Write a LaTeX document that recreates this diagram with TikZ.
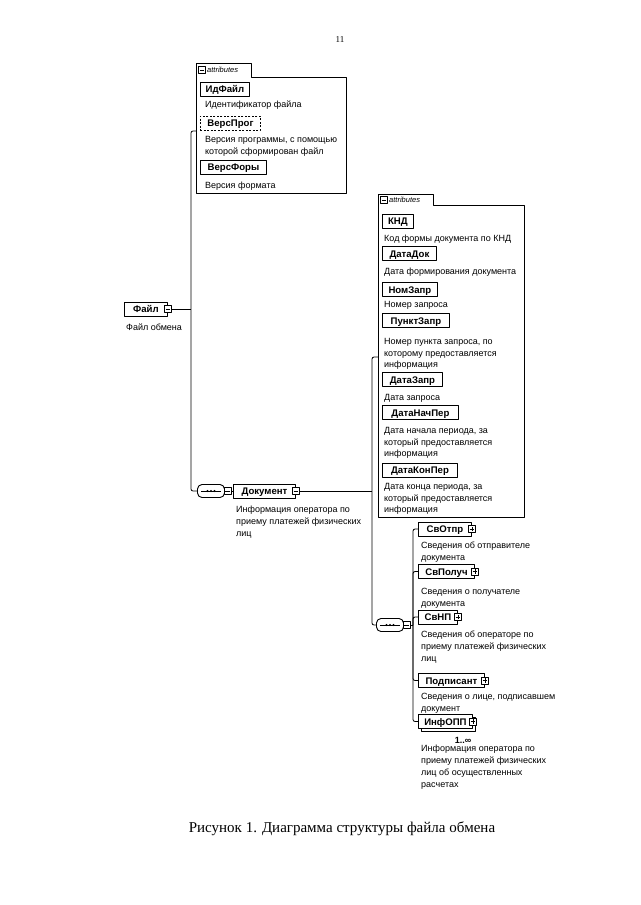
\documentclass[tikz,border=0pt]{standalone}
\usepackage{fontspec}
\setmainfont{Liberation Serif}
\newfontfamily\arialf{Liberation Sans}
\usetikzlibrary{shadows}

\begin{document}
\begin{tikzpicture}[x=1pt,y=-1pt, line join=round,
    every node/.style={inner sep=0pt},
    el/.style={draw, fill=white, line width=.9pt, anchor=west, minimum height=14pt, inner xsep=3.5pt,
        text height=7.8pt, text depth=.8pt, font=\arialf\bfseries\fontsize{9.6}{11}\selectfont},
    optel/.style={el, dash pattern=on 2pt off 1.5pt},
    dsc/.style={anchor=north west, align=left, font=\arialf\fontsize{9}{11.8}\selectfont},
    minus/.style={draw, fill=white, line width=.7pt, minimum size=7pt,
        path picture={\draw ([xshift=1.3pt]path picture bounding box.west) -- ([xshift=-1.3pt]path picture bounding box.east);}},
    plus/.style={draw, fill=white, line width=.7pt, minimum size=7pt,
        path picture={\draw ([xshift=1.3pt]path picture bounding box.west) -- ([xshift=-1.3pt]path picture bounding box.east);
                      \draw ([yshift=1.3pt]path picture bounding box.south) -- ([yshift=-1.3pt]path picture bounding box.north);}},
    seqsym/.style={draw, fill=white, line width=.9pt, rounded corners=4.5pt, minimum width=27pt, minimum height=13pt},
    conn/.style={line width=.8pt, rounded corners=2pt},
    tabtxt/.style={anchor=west, font=\arialf\itshape\fontsize{7.5}{8}\selectfont}]
    \useasboundingbox (0,0) rectangle (640,905);
    \node (pg) at (340,40) {\fontsize{9}{10}\selectfont 11};

    % attributes of Файл
    \draw[line width=.9pt] (196,193) -- (196,63) -- (251,63) -- (251,77) -- (346,77) -- (346,193) -- cycle;
    \node[minus] (fatab) at (202,70) {};
    \node[tabtxt] (fatabt) at (207,70) {attributes};
    \node[el, minimum width=49pt] (idfajl) at (200,89) {ИдФайл};
    \node[dsc] (idfajld) at (205,101) {Идентификатор файла};
    \node[optel, minimum width=60pt] (versprog) at (200,123) {ВерсПрог};
    \node[dsc] (versprogd) at (205,136) {Версия программы, с помощью\\которой сформирован файл};
    \node[el, minimum width=66pt] (versfor) at (200,167) {ВерсФоры};
    \node[dsc] (versford) at (205,182) {Версия формата};

    % root
    \node[el, minimum width=43pt] (fajl) at (124,309) {Файл};
    \node[minus] (fajlx) at (fajl.east) {};
    \node[dsc] (fajld) at (126,324) {Файл обмена};
    \coordinate (fjF) at (191,309);
    \coordinate (attrF) at (196,131);

    \node[seqsym] (seq1) at (211,491) {};
    \draw[line width=.7pt] ([xshift=4pt]seq1.west) -- ([xshift=-4pt]seq1.east);
    \foreach \d in {-3.5,0,3.5} \fill ([xshift=\d pt]seq1.center) circle (1.2pt);
    \node[minus] (seq1x) at (227.5,491) {};
    \node[el, minimum width=62pt] (dok) at (233,491) {Документ};
    \node[minus] (dokx) at (dok.east) {};
    \node[dsc] (dokd) at (236,506) {Информация оператора по\\приему платежей физических\\лиц};

    \draw[conn] (fajlx.east) -- (fjF);
    \draw[conn] (attrF) -| (fjF) |- (seq1.west);
    \draw[conn] (seq1x.east) -- (dok.west);

    % attributes of Документ
    \draw[line width=.9pt] (378,517) -- (378,194) -- (433,194) -- (433,205) -- (524,205) -- (524,517) -- cycle;
    \node[minus] (datab) at (384,200) {};
    \node[tabtxt] (databt) at (389,200) {attributes};
    \node[el, minimum width=31pt] (knd) at (382,221) {КНД};
    \node[dsc] (kndd) at (384,235) {Код формы документа по КНД};
    \node[el, minimum width=54pt] (datadok) at (382,253.5) {ДатаДок};
    \node[dsc] (datadokd) at (384,268) {Дата формирования документа};
    \node[el, minimum width=55pt] (nomzapr) at (382,289.5) {НомЗапр};
    \node[dsc] (nomzaprd) at (384,301) {Номер запроса};
    \node[el, minimum width=67pt] (punktzapr) at (382,320.5) {ПунктЗапр};
    \node[dsc] (punktzaprd) at (384,338) {Номер пункта запроса, по\\которому предоставляется\\информация};
    \node[el, minimum width=60pt] (datazapr) at (382,379.5) {ДатаЗапр};
    \node[dsc] (datazaprd) at (384,394) {Дата запроса};
    \node[el, minimum width=76pt] (datanach) at (382,412.5) {ДатаНачПер};
    \node[dsc] (datanachd) at (384,427) {Дата начала периода, за\\который предоставляется\\информация};
    \node[el, minimum width=75pt] (datakon) at (382,470) {ДатаКонПер};
    \node[dsc] (datakond) at (384,483) {Дата конца периода, за\\который предоставляется\\информация};
    \coordinate (fjD) at (372,491);
    \coordinate (attrD) at (378,357);

    \node[seqsym] (seq2) at (390,625) {};
    \draw[line width=.7pt] ([xshift=4pt]seq2.west) -- ([xshift=-4pt]seq2.east);
    \foreach \d in {-3.5,0,3.5} \fill ([xshift=\d pt]seq2.center) circle (1.2pt);
    \node[minus] (seq2x) at (406.5,625) {};
    \coordinate (fjS) at (413,625);

    \draw[conn] (dokx.east) -- (fjD);
    \draw[conn] (attrD) -| (fjD) |- (seq2.west);
    \draw[conn] (seq2x.east) -- (fjS);

    % children of Документ
    \node[el, minimum width=53pt] (svotpr) at (418,529) {СвОтпр};
    \node[plus] (svotprx) at (svotpr.east) {};
    \node[dsc] (svotprd) at (421,542) {Сведения об отправителе\\документа};
    \node[el, minimum width=56pt] (svpoluch) at (418,571.5) {СвПолуч};
    \node[plus] (svpoluchx) at (svpoluch.east) {};
    \node[dsc] (svpoluchd) at (421,588) {Сведения о получателе\\документа};
    \node[el, minimum width=39pt] (svnp) at (418,617) {СвНП};
    \node[plus] (svnpx) at (svnp.east) {};
    \node[dsc] (svnpd) at (421,631) {Сведения об операторе по\\приему платежей физических\\лиц};
    \node[el, minimum width=66pt] (podpis) at (418,680.5) {Подписант};
    \node[plus] (podpisx) at (podpis.east) {};
    \node[dsc] (podpisd) at (421,693) {Сведения о лице, подписавшем\\документ};
    \node[el, minimum width=54pt, copy shadow={shadow xshift=3pt, shadow yshift=-3pt, draw, fill=white}] (infopp) at (418,721.5) {ИнфОПП};
    \node[plus] (infoppx) at (infopp.east) {};
    \node[font=\arialf\bfseries\fontsize{9}{10}\selectfont] (infoppn) at (463,740) {1..∞};
    \node[dsc] (infoppd) at (421,745) {Информация оператора по\\приему платежей физических\\лиц об осуществленных\\расчетах};

    \foreach \c in {svotpr,svpoluch,svnp,podpis,infopp} \draw[conn] (fjS) |- (\c.west);

    \node (cap) at (342,829) {\fontsize{15}{17}\selectfont Рисунок 1. Диаграмма структуры файла обмена};
\end{tikzpicture}
\end{document}
